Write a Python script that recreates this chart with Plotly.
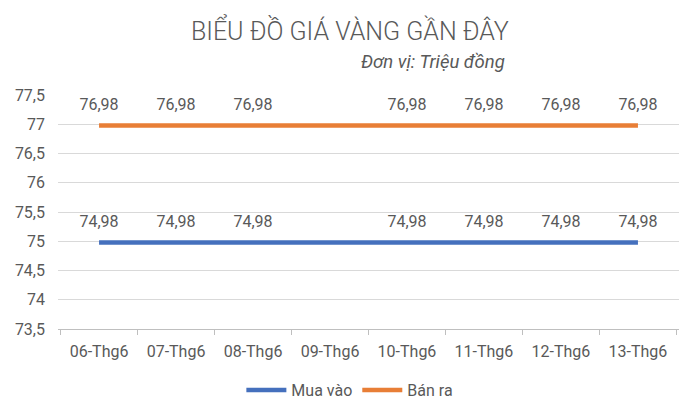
import plotly.graph_objects as go

# Data
days = ['06-Thg6', '07-Thg6', '08-Thg6', '09-Thg6', '10-Thg6', '11-Thg6', '12-Thg6', '13-Thg6']
mua_vao = [74.98, 74.98, 74.98, None, 74.98, 74.98, 74.98, 74.98]
ban_ra = [76.98, 76.98, 76.98, None, 76.98, 76.98, 76.98, 76.98]
y_ticks = [73.5, 74, 74.5, 75, 75.5, 76, 76.5, 77, 77.5]

grey_text = '#595959'
font_name = 'Roboto'

fig = go.Figure()
for name, vals, color in [('Mua vào', mua_vao, '#4570BD'), ('Bán ra', ban_ra, '#E87E36')]:
    fig.add_trace(go.Scatter(
        x=days, y=vals, name=name,
        mode='lines+markers+text',
        connectgaps=True,
        line=dict(color=color, width=4.5),
        # invisible markers only to lift the labels above the line
        marker=dict(size=16, color='rgba(0,0,0,0)', line=dict(width=0)),
        texttemplate='%{y:.2f}',
        textposition='top center',
        textfont=dict(size=16, color=grey_text, family=font_name),
        hoverinfo='x+y',
    ))

# page body adds an 8px offset, so the figure is a bit smaller than the window
fig.update_layout(
    width=692, height=407,
    margin=dict(l=50, r=21, t=87, b=86, autoexpand=False),
    paper_bgcolor='white', plot_bgcolor='white',
    separators=',.',
    font=dict(family=font_name, color=grey_text),
    title=dict(
        text='BIỂU ĐỒ GIÁ VÀNG GẦN ĐÂY',
        x=0.494, xanchor='center', y=0.942, yanchor='middle',
        font=dict(size=25, color=grey_text, family=font_name, weight=300),
    ),
    showlegend=True,
    legend=dict(
        orientation='h', x=0.47, xanchor='center', y=-0.261, yanchor='middle',
        font=dict(size=16, color=grey_text), itemwidth=40,
    ),
    annotations=[dict(
        text='<i>Đơn vị: Triệu đồng</i>', xref='paper', yref='paper',
        x=0.723, xanchor='right', y=1.142, yanchor='middle', showarrow=False,
        font=dict(size=18.5, color=grey_text),
    )],
    shapes=[
        dict(type='line', xref='paper', yref='paper', x0=1.0306, x1=1.0306, y0=-0.4, y1=1.45,
             line=dict(color='#D9D9D9', width=1)),
    ],
)

fig.update_xaxes(
    type='category', showgrid=False, showline=True, linecolor='#BFBFBF', linewidth=1,
    ticks='outside', tickson='boundaries', ticklen=5, tickcolor='#BFBFBF',
    tickfont=dict(size=16, color=grey_text), ticklabelstandoff=8, automargin=False,
)
fig.update_yaxes(
    range=[73.5, 77.5], tickvals=y_ticks, showgrid=True, gridcolor='#D9D9D9', gridwidth=1,
    zeroline=False, showline=False, ticks='', tickfont=dict(size=16, color=grey_text),
    ticklabelstandoff=12, automargin=False,
)

fig.write_html('out.html')
